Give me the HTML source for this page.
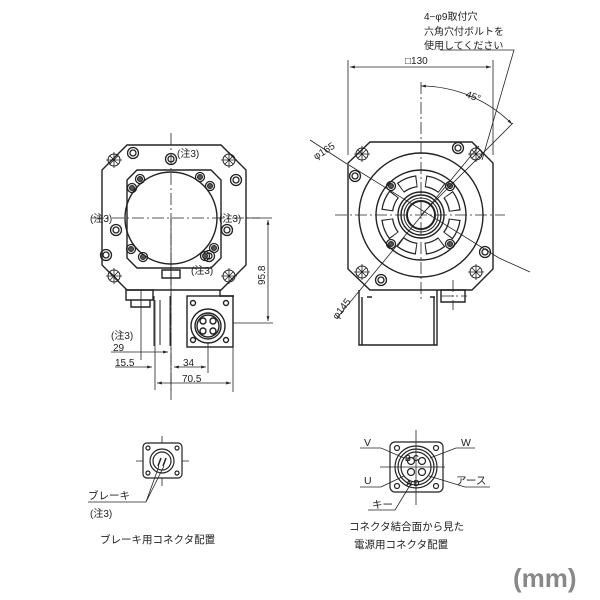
<!DOCTYPE html>
<html><head><meta charset="utf-8"><style>
html,body{margin:0;padding:0;background:#fff}
svg{display:block}
text{font-family:"Liberation Sans","Noto Sans CJK JP",sans-serif;fill:#222}
</style></head><body>
<svg width="600" height="600" viewBox="0 0 600 600" xmlns="http://www.w3.org/2000/svg">
<defs>
<marker id="a" viewBox="0 0 10 10" refX="10" refY="5" markerWidth="6" markerHeight="6" orient="auto-start-reverse"><path d="M0,2L10,5L0,8z" fill="#222"/></marker>
<g id="xh"><circle r="6" fill="none" stroke="#222" stroke-width="1"/><path d="M-8,0H8M0,-8V8M-4,-4L4,4M-4,4L4,-4" stroke="#222" stroke-width="0.8"/></g>
<g id="bh"><circle r="5.5" fill="none" stroke="#222" stroke-width="1.3"/><circle r="3" fill="none" stroke="#222" stroke-width="1.3"/></g>
<g id="bs"><circle r="4.5" fill="none" stroke="#222" stroke-width="1.3"/><circle r="2.5" fill="#555" stroke="#222"/></g>
</defs>
<g stroke="#222" fill="none" stroke-width="1.4">
<path d="M127,145H221L246,170V265L221,290H127L102,265V170Z"/>
<path d="M137,170H211L221,180V258L211,268H137L127,258V180Z"/>
<circle cx="171" cy="218" r="46"/>
<path d="M162,270h18v8h-18z"/>
<path d="M126,290h27v10h-27zM131,300h19v7h-19z"/>
<path d="M154,296v50M160,300v45M170,296v50" stroke-width="1"/>
<rect x="187" y="296" width="46" height="51"/>
<path d="M220,290v6h14" />
<circle cx="208" cy="326" r="17"/><circle cx="208" cy="326" r="13"/><circle cx="208" cy="326" r="11"/>
<circle cx="203" cy="321" r="3"/><circle cx="213" cy="321" r="3"/><circle cx="203" cy="331" r="3"/><circle cx="213" cy="331" r="3"/>
<circle cx="193" cy="303" r="2.5"/><circle cx="226" cy="303" r="2.5"/><circle cx="193" cy="340" r="2.5"/><circle cx="226" cy="340" r="2.5"/>
</g>
<use href="#xh" x="114" y="160"/><use href="#xh" x="229" y="160"/><use href="#xh" x="114" y="276"/><use href="#xh" x="229" y="276"/>
<use href="#bh" x="133" y="153"/><use href="#bh" x="171" y="159"/><use href="#bh" x="236" y="180"/><use href="#bh" x="116" y="230"/><use href="#bh" x="227" y="230"/><use href="#bh" x="106" y="255"/><use href="#bh" x="209" y="256"/>
<use href="#bs" x="140" y="179"/><use href="#bs" x="200" y="177"/><use href="#bs" x="210" y="186"/><use href="#bs" x="132" y="188"/><use href="#bs" x="131" y="249"/><use href="#bs" x="143" y="257"/><use href="#bs" x="214" y="248"/><use href="#bs" x="205" y="256"/>
<g stroke="#222" stroke-width="0.8" fill="none" stroke-dasharray="12 3 2 3">
<path d="M171,133V400M92,218H260"/>
</g>
<g stroke="#222" stroke-width="0.8" fill="none">
<path d="M246,218h26M233,323h40M141,290v70M171,218v175M155,300v90M233,347v45M208,343v30"/>
<path d="M268,220V321" marker-start="url(#a)" marker-end="url(#a)"/>
<path d="M111,352h30M141,352H168" marker-end="url(#a)"/>
<path d="M115,367h37" marker-end="url(#a)"/>
<path d="M174,367h32" marker-start="url(#a)" marker-end="url(#a)"/>
<path d="M157,383h74" marker-start="url(#a)" marker-end="url(#a)"/>
</g>
<g font-size="10">
<text x="177" y="157">(注3)</text>
<text x="90" y="222">(注3)</text>
<text x="219" y="222">(注3)</text>
<text x="191" y="274">(注3)</text>
<text x="111" y="339">(注3)</text>
<text x="113" y="351">29</text>
<text x="115" y="366">15.5</text>
<text x="183" y="366">34</text>
<text x="182" y="382">70.5</text>
<text transform="translate(265,285) rotate(-90)">95.8</text>
</g>
<g stroke="#222" fill="none" stroke-width="1.4">
<path d="M370,142H472L493,163V269L472,290H370L348,269V163Z"/>
<circle cx="421" cy="215" r="62"/>
<circle cx="421" cy="215" r="45"/>
<circle cx="421" cy="215" r="34" stroke-width="12" stroke-dasharray="18 8.7" stroke-dashoffset="-4.35"/>
<circle cx="421" cy="215" r="34" stroke="#fff" stroke-width="9.5" stroke-dasharray="16 10.7" stroke-dashoffset="-5.35"/>
<circle cx="421" cy="215" r="23"/><circle cx="421" cy="215" r="20"/><circle cx="421" cy="215" r="17" stroke-width="1"/>
<circle cx="421" cy="215" r="14" stroke-width="2"/>
<path d="M359,290v55h78v-55M367,297h5M430,297h5M362,297v48M434,297v48"/>
<path d="M441,290h24v12h-24z"/>
</g>
<use href="#xh" x="362" y="154"/><use href="#xh" x="476" y="154"/><use href="#xh" x="362" y="272"/><use href="#xh" x="476" y="272"/>
<use href="#bh" x="355" y="176"/><use href="#bh" x="458" y="148"/><use href="#bh" x="485" y="252"/><use href="#bh" x="381" y="280"/>
<use href="#bs" x="391" y="186"/><use href="#bs" x="450" y="186"/><use href="#bs" x="391" y="244"/><use href="#bs" x="450" y="244"/>
<g stroke="#222" stroke-width="0.8" fill="none" stroke-dasharray="12 3 2 3">
<path d="M421,82V300M335,215H505M453,280v30M441,296h26"/>
</g>
<g stroke="#222" stroke-width="0.8" fill="none">
<path d="M348,60v95M493,60v95"/>
<path d="M350,67h141" marker-start="url(#a)" marker-end="url(#a)"/>
<path d="M421,86A129,129 0 0 1 512,124" marker-start="url(#a)" marker-end="url(#a)"/>
<path d="M421,215L513,123"/>
<path d="M310,140L347,164M499,258L530,272"/>
<path d="M349,165L499,258"/>
<path d="M337,318L479,146"/>
<path d="M440,50H514L482,160"/>
</g>
<g font-size="10">
<text x="424" y="20">4−φ9取付穴</text>
<text x="424" y="35">六角穴付ボルトを</text>
<text x="424" y="49">使用してください</text>
<text x="405" y="64">□130</text>
<text x="465" y="97" transform="rotate(20 465 97)">45°</text>
<text transform="translate(316,160) rotate(-32)">φ165</text>
<text transform="translate(337,320) rotate(-52)">φ145</text>
</g>
<g stroke="#222" fill="none" stroke-width="1.2">
<rect x="143" y="443" width="39" height="35" rx="4"/>
<circle cx="162" cy="461" r="12"/><circle cx="162" cy="461" r="9"/>
<circle cx="148" cy="448" r="2"/><circle cx="177" cy="448" r="2"/><circle cx="148" cy="473" r="2"/><circle cx="177" cy="473" r="2"/>
<path d="M158,466l3,-8M163,466l3,-8" stroke-width="1.5"/>
<path d="M143,461h-7M182,461h7M162,443v-7M162,478v8" stroke-width="0.8"/>
<path d="M88,502H146L159,466M146,502L164,466" stroke-width="0.8"/>
</g>
<g font-size="10.5">
<text x="88" y="499">ブレーキ</text>
<text x="90" y="517" font-size="10">(注3)</text>
<text x="100" y="543">ブレーキ用コネクタ配置</text>
</g>
<g stroke="#222" fill="none" stroke-width="1.2">
<rect x="390" y="442" width="53" height="50" rx="5"/>
<circle cx="416" cy="467" r="21"/><circle cx="416" cy="467" r="18"/><circle cx="416" cy="467" r="15"/>
<circle cx="397" cy="448" r="2.5"/><circle cx="436" cy="448" r="2.5"/><circle cx="397" cy="486" r="2.5"/><circle cx="436" cy="486" r="2.5"/>
<circle cx="411" cy="461" r="3.5"/><circle cx="422" cy="461" r="3.5"/><circle cx="411" cy="472" r="3.5"/><circle cx="422" cy="472" r="3.5"/>
<path d="M416,430v75M380,467h65" stroke-width="0.8"/>
<path d="M360,448H381L404,458M475,448H456L430,458M360,487H381L404,476M490,487H465L429,476M368,510H395L412,482" stroke-width="0.8"/>
</g>
<g font-size="10.5">
<text x="364" y="446">V</text>
<text x="461" y="446">W</text>
<text x="364" y="484">U</text>
<text x="456" y="484">アース</text>
<text x="372" y="508">キー</text>
<text x="405" y="461" font-size="8" font-weight="bold">B C</text>
<text x="406" y="486" font-size="8" font-weight="bold">A D</text>
<text x="349" y="530">コネクタ結合面から見た</text>
<text x="354" y="548">電源用コネクタ配置</text>
</g>
<text x="513" y="587" font-size="26" font-weight="bold" style="fill:#888">(mm)</text>
</svg>
</body></html>
